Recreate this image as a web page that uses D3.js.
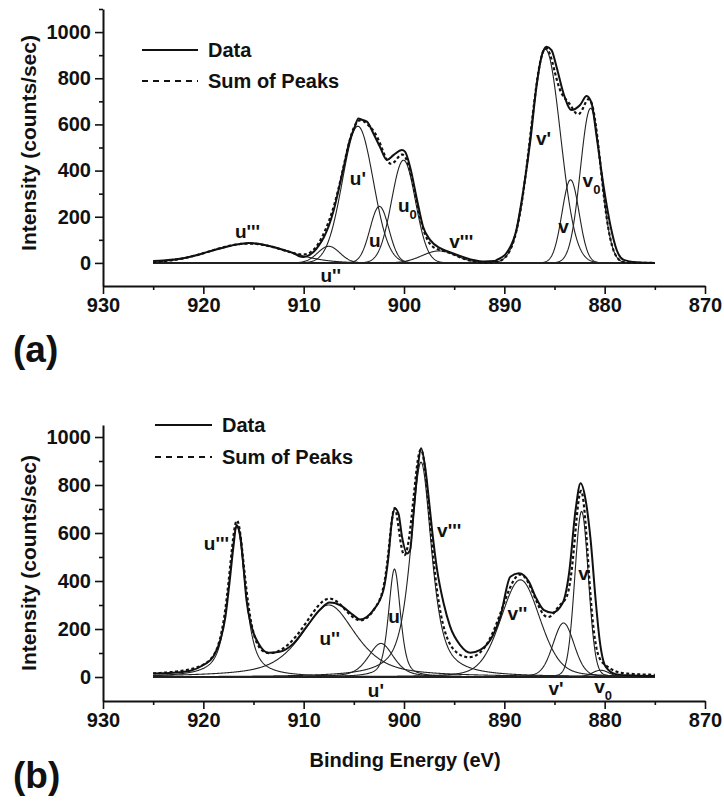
<!DOCTYPE html>
<html><head><meta charset="utf-8">
<script src="https://cdn.jsdelivr.net/npm/d3@7"></script>
<style>body{margin:0;background:#fff}svg{display:block}</style>
</head><body>
<svg id="chart" width="724" height="801"></svg>
<script>
// ---------- tick values ----------
const energyTicks = [930, 920, 910, 900, 890, 880, 870];
const energyMinorTicks = [925, 915, 905, 895, 885, 875];
const intensityTicks = [0, 200, 400, 600, 800, 1000];
const intensityMinorTicks = [100, 300, 500, 700, 900, 1100];

// ---------- panel (a): fitted components ----------
const aNames   = ["u'''", "u''", "u'", "u", "u0", "v'''", "v'", "v", "v0"];
const aCenter  = [915.5, 907.5, 904.6, 902.45, 900.05, 896.5, 885.9, 883.4, 881.4];
const aHeight  = [84, 72, 592, 245, 445, 52, 925, 360, 670];
const aFwhm    = [9.0, 2.6, 3.6, 2.2, 2.8, 4.0, 3.5, 2.0, 2.4];
const aLorentz = [0, 0, 0, 0, 0, 0, 0, 0, 0];
// panel (a): measured data (binding energy, counts/sec)
const aDataE = [925, 924, 923, 922, 921, 920, 919, 918, 917, 916, 915.5, 915, 914, 913, 912, 911, 910.5, 910, 909.5, 909, 908.5, 908, 907.5, 907, 906.5, 906, 905.4, 904.9, 904.55, 904.2, 903.7, 903.05, 902.4, 901.7, 901.05, 900.2, 899.9, 899.4, 898.7, 898.1, 897.4, 896.4, 895.5, 894.7, 893.1, 892, 891, 890.75, 889.8, 888.8, 888.1, 887.4, 886.8, 886.3, 885.8, 885.3, 884.8, 884.1, 883.3, 882.45, 881.8, 881.3, 880.8, 880.1, 879.4, 878.8, 878.1, 876.8, 875];
const aDataI = [8, 11, 15, 20, 30, 42, 55, 66, 77, 84, 86, 85, 79, 69, 56, 42, 30, 26, 33, 48, 75, 110, 160, 229, 320, 417, 532, 590, 626, 620, 612, 561, 503, 446, 467, 489, 482, 417, 273, 157, 100, 64, 48, 35, 13, 6, 8, 13, 42, 143, 316, 532, 763, 893, 936, 922, 850, 734, 662, 684, 723, 691, 547, 330, 157, 56, 13, 3, 0];

// ---------- panel (b): fitted components ----------
const bNames   = ["u'''", "u''", "u'", "u", "v'''", "v''", "v'", "v", "v0"];
const bCenter  = [916.65, 907.5, 902.3, 900.95, 898.3, 888.4, 884.1, 882.3, 880.4];
const bHeight  = [625, 300, 140, 450, 895, 405, 225, 690, 28];
const bFwhm    = [2.0, 6.4, 3.0, 1.4, 2.5, 4.6, 2.5, 1.6, 2.0];
const bLorentz = [0.7, 0.65, 0.5, 0.5, 0.7, 0.25, 0.2, 0.1, 0.1];
// panel (b): measured data
const bDataE = [925, 923, 921.3, 920, 919, 918.3, 917.8, 917.4, 917, 916.7, 916.3, 916, 915.7, 915.2, 914.5, 913.5, 912.4, 911, 909.7, 908.4, 907.4, 906.4, 905.05, 904.4, 903.05, 902.05, 901.55, 901.2, 900.9, 900.55, 900.2, 899.7, 899.4, 899.05, 898.65, 898.3, 897.9, 897.55, 897.2, 896.7, 896.05, 895.4, 894.4, 893.4, 892.4, 891.4, 890.4, 889.4, 888.55, 887.55, 886.9, 886.05, 885.2, 884.2, 883.55, 882.9, 882.4, 881.9, 881.4, 880.9, 880.5, 879.9, 878.9, 877.6, 875];
const bDataI = [15, 18, 26, 50, 85, 154, 251, 390, 543, 633, 585, 460, 321, 210, 140, 101, 105, 140, 210, 279, 310, 300, 258, 240, 279, 362, 501, 654, 702, 681, 585, 515, 529, 681, 862, 953, 876, 751, 612, 446, 307, 210, 133, 101, 113, 154, 251, 418, 432, 397, 335, 279, 268, 307, 432, 696, 807, 738, 571, 321, 154, 43, 12, 7, 4];

// ---------- label anchors (energy, intensity) ----------
const aLabelE = [915.6, 907.3, 904.6, 902.9, 900.6, 894.3, 886.1, 884.1, 882.2];
const aLabelI = [108, -83, 337, 69, 220, 64, 510, 130, 329];
const bLabelE = [918.7, 907.4, 902.8, 901.0, 895.5, 888.7, 884.85, 882.1, 881.05];
const bLabelI = [529, 133, -83, 225, 583, 237, -75, 404, -67];

const scanStart = 925, scanEnd = 875;

// ---------- drawing ----------
const svg = d3.select("#chart");
const FONT = "'Liberation Sans', Arial, sans-serif";

function profile(E, c, h, w, eta) {
  const x = (E - c) / (w / 2);
  const L = 1 / (1 + x * x);
  const G = Math.exp(-Math.LN2 * x * x);
  return h * (eta * L + (1 - eta) * G);
}

function panel(opt) {
  const g = svg.append("g");
  const x = d3.scaleLinear().domain([930, 870]).range([103, 705]);
  const y = d3.scaleLinear().domain(opt.yDomain).range(opt.yRange);

  // axes
  g.append("g").attr("transform", "translate(103,0)")
    .call(d3.axisLeft(y).tickValues(intensityTicks).tickFormat(d3.format("d")).tickSize(8).tickSizeOuter(0).tickPadding(4));
  g.append("g").attr("transform", "translate(103,0)")
    .call(d3.axisLeft(y).tickValues(intensityMinorTicks.filter(v => v <= opt.yDomain[1])).tickSize(4).tickFormat(""))
    .select(".domain").remove();
  g.append("g").attr("transform", `translate(0,${opt.yRange[0]})`)
    .call(d3.axisBottom(x).tickValues(energyTicks).tickFormat(d3.format("d")).tickSize(8).tickSizeOuter(0).tickPadding(4));
  g.append("g").attr("transform", `translate(0,${opt.yRange[0]})`)
    .call(d3.axisBottom(x).tickValues(energyMinorTicks).tickSize(4).tickFormat(""))
    .select(".domain").remove();
  g.selectAll(".domain").attr("stroke", "#111").attr("stroke-width", 2);
  g.selectAll(".tick line").attr("stroke", "#111").attr("stroke-width", 1.6);
  g.selectAll(".tick text").attr("font-family", FONT).attr("font-size", 20)
    .attr("font-weight", "bold").attr("fill", "#111");

  // y title
  g.append("text").attr("transform", `translate(36,${opt.titleY}) rotate(-90)`)
    .attr("text-anchor", "middle").attr("font-family", FONT).attr("font-size", 21)
    .attr("font-weight", "bold").attr("fill", "#111").text("Intensity (counts/sec)");

  const grid = d3.range(scanStart, scanEnd - 0.001, -0.05);
  const comps = opt.center.map((c, i) => grid.map(E => [E, profile(E, c, opt.height[i], opt.fwhm[i], opt.eta[i])]));
  const sum = grid.map((E, k) => [E, d3.sum(comps, cp => cp[k][1])]);

  const line = d3.line().x(d => x(d[0])).y(d => y(d[1]));

  // baseline
  g.append("path").attr("d", line([[scanStart, 0], [scanEnd, 0]]))
    .attr("stroke", "#111").attr("stroke-width", 2).attr("fill", "none");
  // components
  g.selectAll(".comp").data(comps).enter().append("path").attr("class", "comp")
    .attr("d", line).attr("fill", "none").attr("stroke", "#222").attr("stroke-width", 1.1);
  // data
  const data = opt.dataE.map((E, i) => [E, opt.dataI[i]]);
  g.append("path").attr("d", line.curve(d3.curveMonotoneX)(data))
    .attr("fill", "none").attr("stroke", "#111").attr("stroke-width", 2);
  line.curve(d3.curveLinear);
  // sum of peaks
  g.append("path").attr("d", line(sum)).attr("fill", "none")
    .attr("stroke", "#111").attr("stroke-width", 2.2).attr("stroke-dasharray", "3,2.5");

  // labels
  opt.names.forEach((n, i) => {
    const t = g.append("text").attr("font-family", FONT).attr("font-size", 19)
      .attr("font-weight", "bold").attr("fill", "#111")
      .attr("x", x(opt.labelE[i])).attr("y", y(opt.labelI[i]));
    if (n.endsWith("0")) {
      t.attr("text-anchor", "start");
      t.append("tspan").text(n.slice(0, -1));
      t.append("tspan").attr("font-size", 13).attr("dy", 7).text("0");
    } else {
      t.attr("text-anchor", "middle").text(n);
    }
  });

  // legend
  const lg = g.append("g");
  lg.append("line").attr("x1", opt.legX1).attr("x2", opt.legX2).attr("y1", opt.legY).attr("y2", opt.legY)
    .attr("stroke", "#111").attr("stroke-width", 2);
  lg.append("line").attr("x1", opt.legX1).attr("x2", opt.legX2).attr("y1", opt.legY + opt.legGap).attr("y2", opt.legY + opt.legGap)
    .attr("stroke", "#111").attr("stroke-width", 2.2).attr("stroke-dasharray", "6,5");
  ["Data", "Sum of Peaks"].forEach((s, i) => {
    lg.append("text").attr("x", opt.legX2 + 10).attr("y", opt.legY + i * opt.legGap + 7)
      .attr("font-family", FONT).attr("font-size", 20).attr("font-weight", "bold")
      .attr("fill", "#111").text(s);
  });

  // panel letter
  svg.append("text").attr("x", 13).attr("y", opt.letterY).attr("font-family", FONT)
    .attr("font-size", 37).attr("font-weight", "bold").attr("fill", "#111").text(opt.letter);
}

panel({
  yDomain: [-100, 1100], yRange: [286, 9], titleY: 143,
  names: aNames, center: aCenter, height: aHeight, fwhm: aFwhm, eta: aLorentz,
  dataE: aDataE, dataI: aDataI, labelE: aLabelE, labelI: aLabelI,
  legX1: 142, legX2: 198, legY: 50, legGap: 31, letter: "(a)", letterY: 362
});
panel({
  yDomain: [-100, 1050], yRange: [701, 425], titleY: 563,
  names: bNames, center: bCenter, height: bHeight, fwhm: bFwhm, eta: bLorentz,
  dataE: bDataE, dataI: bDataI, labelE: bLabelE, labelI: bLabelI,
  legX1: 155, legX2: 212, legY: 425, legGap: 32, letter: "(b)", letterY: 788
});

// x title
svg.append("text").attr("x", 405).attr("y", 767).attr("text-anchor", "middle")
  .attr("font-family", FONT).attr("font-size", 20).attr("font-weight", "bold")
  .attr("fill", "#111").text("Binding Energy (eV)");
</script>
</body></html>
